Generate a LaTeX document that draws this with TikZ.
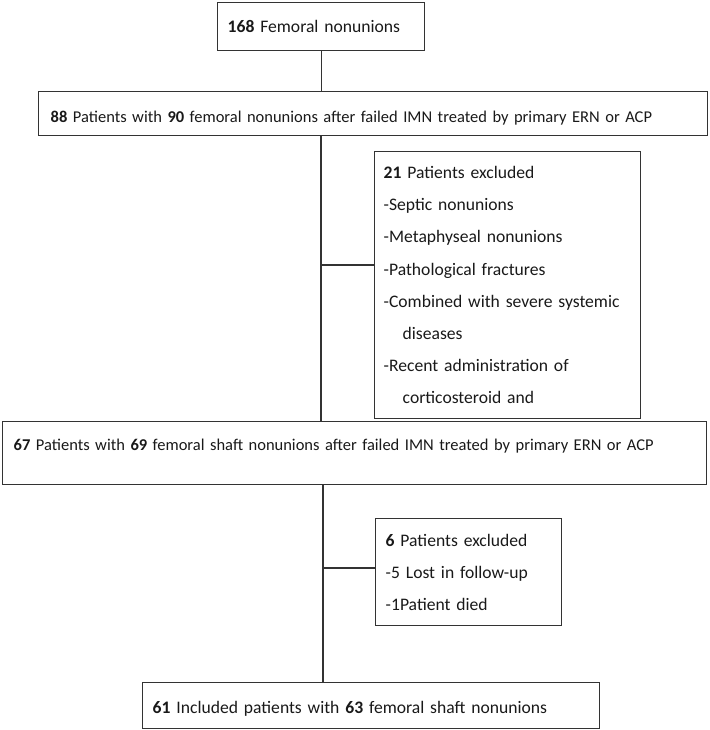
\documentclass[tikz,border=0pt]{standalone}
\usepackage{fontspec}
\setmainfont{Carlito}
\usepackage{tikz}

\begin{document}
\begin{tikzpicture}[x=1pt,y=-1pt,
  box/.style={draw=black!80, line width=1.4pt, anchor=north west, align=left,
    inner xsep=10pt, inner ysep=0pt, text=black!90,
    font=\fontsize{17.6}{32.2}\selectfont},
  wide/.style={font=\fontsize{16.5}{32}\selectfont},
  link/.style={draw=black!80, line width=1.1pt}]
\useasboundingbox (0,0) rectangle (709,730);

% main flow
\node[box, text width=187pt, text height=30pt, text depth=18pt] (fem) at (217,2)
  {\textbf{168} Femoral nonunions};
\node[box, wide, inner xsep=12pt, text width=645pt, text height=31pt, text depth=13pt] (p88) at (38,91)
  {\textbf{88} Patients with \textbf{90} femoral nonunions after failed IMN treated by primary ERN or ACP};
\node[box, wide, inner xsep=11pt, text width=682pt, text height=29pt, text depth=34pt] (p67) at (2,421)
  {\textbf{67} Patients with \textbf{69} femoral shaft nonunions after failed IMN treated by primary ERN or ACP};
\node[box, text width=437pt, text height=31pt, text depth=15pt] (p61) at (142,682)
  {\textbf{61} Included patients with \textbf{63} femoral shaft nonunions};

% exclusions
\node[box, inner xsep=9pt, text width=248pt, minimum height=267pt] (ex21) at (374,151)
  {\textbf{21} Patients excluded\\
   -Septic nonunions\\
   -Metaphyseal nonunions\\
   -Pathological fractures\\
   -Combined with severe systemic\\
   \hspace*{19pt}diseases\\
   -Recent administration of\\
   \hspace*{19pt}corticosteroid and};
\node[box, text width=166pt, minimum height=107pt] (ex6) at (375,518)
  {\textbf{6} Patients excluded\\
   -5 Lost in follow-up\\
   -1Patient died};

\coordinate (j1) at (321,265);
\coordinate (j2) at (323,568);

\draw[link] (fem.south) -- (fem.south |- p88.north);
\draw[link] (j1 |- p88.south) -- (j1 |- p67.north);
\draw[link] (j1) -- (j1 -| ex21.west);
\draw[link] (j2 |- p67.south) -- (j2 |- p61.north);
\draw[link] (j2) -- (j2 -| ex6.west);
\end{tikzpicture}
\end{document}
